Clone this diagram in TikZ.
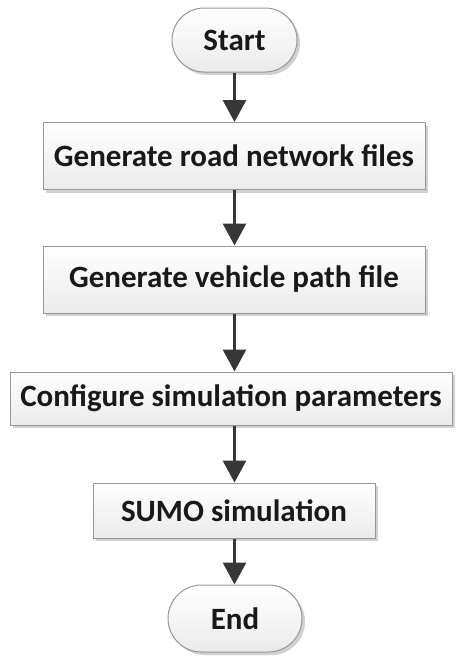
\documentclass[tikz,border=0pt]{standalone}
\usepackage{fontspec}
\setmainfont{Carlito}
\usetikzlibrary{arrows.meta,shapes.misc,shadows}
\definecolor{edgegray}{RGB}{150,150,150}
\definecolor{arrowgray}{RGB}{55,55,55}
\definecolor{txtgray}{RGB}{25,25,25}
\tikzset{
  basebox/.style={draw=edgegray, line width=1pt, top color=white, bottom color=black!8,
    text=txtgray, font=\fontsize{31}{33}\selectfont\bfseries, inner sep=0pt,
    drop shadow={shadow xshift=3pt, shadow yshift=-3pt, fill=black, opacity=0.18}},
  procbox/.style={basebox, rectangle},
  termbox/.style={basebox, rounded rectangle},
  flowarrow/.style={draw=arrowgray, line width=3pt,
    -{Triangle[width=23pt,length=22pt]}, arrowgray}
}
\begin{document}
\begin{tikzpicture}[x=1pt,y=1pt]
\useasboundingbox (0,0) rectangle (458,-656);
\node[termbox, minimum width=125pt, minimum height=64pt] (start) at (234.5,-40) {Start};
\node[procbox, minimum width=382pt, minimum height=67pt] (gen1) at (234,-156) {Generate road network files};
\node[procbox, minimum width=382pt, minimum height=67pt] (gen2) at (234,-279.5) {Generate vehicle path file};
\node[procbox, minimum width=442pt, minimum height=53pt] (conf) at (231,-398.5) {Configure simulation parameters};
\node[procbox, minimum width=282pt, minimum height=55pt] (sumo) at (234,-510.5) {SUMO simulation};
\node[termbox, minimum width=134pt, minimum height=67pt] (end) at (235,-618.5) {End};
\draw[flowarrow] (start.south -| 234.5,0) -- (gen1.north -| 234.5,0);
\draw[flowarrow] (gen1.south -| 234.5,0) -- (gen2.north -| 234.5,0);
\draw[flowarrow] (gen2.south -| 234.5,0) -- (conf.north -| 234.5,0);
\draw[flowarrow] (conf.south -| 234.5,0) -- (sumo.north -| 234.5,0);
\draw[flowarrow] (sumo.south -| 234.5,0) -- (end.north -| 234.5,0);
\end{tikzpicture}
\end{document}
